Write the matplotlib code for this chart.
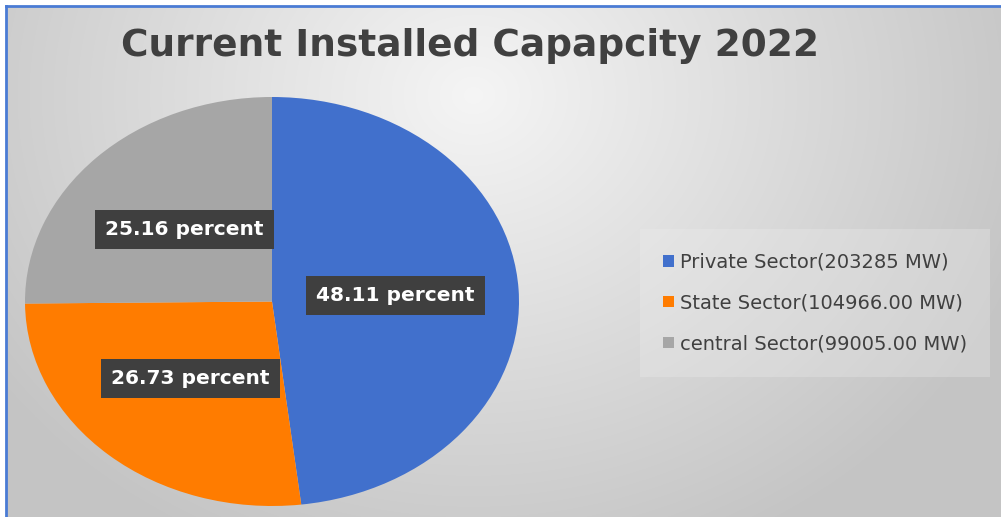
import numpy as np
import matplotlib
matplotlib.use('Agg')
import matplotlib.pyplot as plt

# data
labels = ['Private Sector(203285 MW)', 'State Sector(104966.00 MW)', 'central Sector(99005.00 MW)']
shares = [48.11, 26.73, 25.16]           # percent as printed on the slices
colors = ['#4170cc', '#ff7c00', '#a6a6a6']
title = 'Current Installed Capapcity 2022'

W, H = 1001, 517
fig = plt.figure(figsize=(W/100, H/100), dpi=100)
fig.patch.set_facecolor('white')

# background: soft radial gradient, light near the title, gray towards the edges
bg = fig.add_axes([6/W, 0, 1 - 6/W, 1 - 6/H], zorder=0)
yy, xx = np.mgrid[0:H, 0:W]
d = np.sqrt(((xx - 470)/650.0)**2 + ((yy - 90)/560.0)**2)
shade = np.clip(0.96 - 0.21*d, 0.77, 1.0)
bg.imshow(np.dstack([shade]*3), extent=[0, 1, 0, 1], aspect='auto', origin='upper')
bg.set_axis_off()

# thin blue frame on the top and left, as in the screenshot
fig.add_artist(plt.Line2D([5.5/W, 1], [1 - 5.5/H]*2, color='#4a7bd4', lw=2, transform=fig.transFigure))
fig.add_artist(plt.Line2D([5.5/W]*2, [0, 1 - 5.5/H], color='#4a7bd4', lw=2, transform=fig.transFigure))

# pie axes stretched horizontally, so the pie is an ellipse
ax = fig.add_axes([25/W, 11/H, 494/W, 409/H], zorder=2)
wedges, texts, autotexts = ax.pie(
    shares, colors=colors, startangle=90, counterclock=False,
    autopct='%.2f percent', pctdistance=0.5,
    wedgeprops=dict(linewidth=0),
    textprops=dict(color='white', fontsize=14.5, fontweight='bold'))
for t in autotexts:
    t.set_bbox(dict(boxstyle='square,pad=0.5', facecolor='#3f3f3f', edgecolor='none'))
ax.set_aspect('auto')
ax.set_xlim(-1, 1)
ax.set_ylim(-1, 1)
ax.set_axis_off()

fig.text(470/W, 1 - 46/H, title, ha='center', va='center',
         fontsize=27, fontweight='bold', color='#404040', zorder=3)

leg = fig.legend(wedges, labels, loc='center left', bbox_to_anchor=(636/W, 1 - 303/H),
                 fontsize=14, frameon=True, handlelength=0.55, handleheight=0.55,
                 handletextpad=0.3, labelspacing=1.12, borderpad=0.9)
leg.get_frame().set_facecolor('#eeeeee')
leg.get_frame().set_alpha(0.3)
leg.get_frame().set_edgecolor('none')
leg.get_frame().set_boxstyle('square')
for t in leg.get_texts():
    t.set_color('#404040')

fig.savefig('out.png', dpi=100)
